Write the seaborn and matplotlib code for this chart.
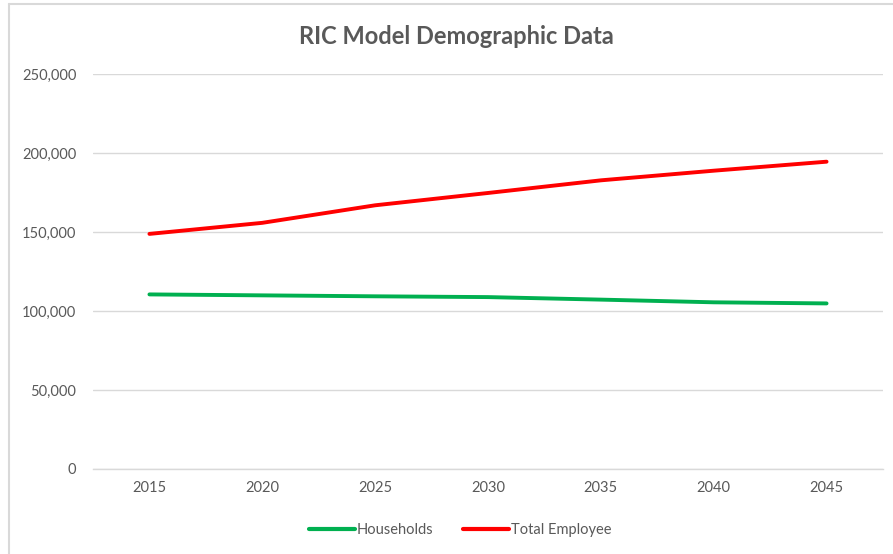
import pandas as pd
import matplotlib.pyplot as plt
import matplotlib.ticker as mticker
from matplotlib.lines import Line2D
import seaborn as sns

# DATA
years = [2015, 2020, 2025, 2030, 2035, 2040, 2045]
households = [110500, 109900, 109300, 108800, 107200, 105500, 104800]
total_employee = [148800, 155800, 166900, 174700, 182700, 188800, 194500]
series_names = ["Households", "Total Employee"]
series_colors = ["#00B050", "#FF0000"]

df = pd.DataFrame({
    "year": years * 2,
    "value": households + total_employee,
    "series": [series_names[0]] * len(years) + [series_names[1]] * len(years),
})

sns.set_theme(style="white")
plt.rcParams["font.family"] = ["Lato", "DejaVu Sans"]
TXT = "#595959"
GRID = "#D9D9D9"

fig = plt.figure(figsize=(8.93, 5.54), dpi=100)
ax = fig.add_axes([93 / 893, 1 - 469 / 554, 790 / 893, 395 / 554])

sns.lineplot(data=df, x="year", y="value", hue="series",
             palette=dict(zip(series_names, series_colors)),
             linewidth=2.8, ax=ax, legend=False)

ax.set_xlim(years[0] - 2.5, years[-1] + 2.5)
ax.set_ylim(0, 250000)
ax.set_xticks(years)
ax.set_yticks(range(0, 250001, 50000))
ax.yaxis.set_major_formatter(mticker.FuncFormatter(lambda v, p: f"{int(v):,}"))
ax.grid(axis="y", color=GRID, linewidth=1)
ax.set_axisbelow(True)
for s in ["top", "right", "left"]:
    ax.spines[s].set_visible(False)
ax.spines["bottom"].set_color(GRID)
ax.spines["bottom"].set_linewidth(1)
ax.tick_params(axis="both", length=0, labelsize=10.5, labelcolor=TXT)
ax.tick_params(axis="y", pad=12)
ax.tick_params(axis="x", pad=9)
ax.set_xlabel("")
ax.set_ylabel("")

fig.text(0.511, 1 - 37 / 554, "RIC Model Demographic Data", ha="center", va="center",
         fontsize=17, fontweight="bold", color=TXT)

handles = [plt.Line2D([], [], color=c, linewidth=3) for c in series_colors]
leg = fig.legend(handles, series_names, loc="center", bbox_to_anchor=(0.515, 1 - 530 / 554),
                 ncol=2, frameon=False, fontsize=10.5, handlelength=3.2,
                 handletextpad=0.1, columnspacing=2.0)
for t in leg.get_texts():
    t.set_color(TXT)

# chart-area border (only left and top edges are visible in the crop)
fig.add_artist(Line2D([8.5 / 893, 8.5 / 893], [0, 1 - 4 / 554], transform=fig.transFigure,
                      color=GRID, linewidth=1.5))
fig.add_artist(Line2D([8.5 / 893, 1], [1 - 4 / 554, 1 - 4 / 554], transform=fig.transFigure,
                      color=GRID, linewidth=1.5))

fig.savefig("out.png", dpi=100, facecolor="white")
